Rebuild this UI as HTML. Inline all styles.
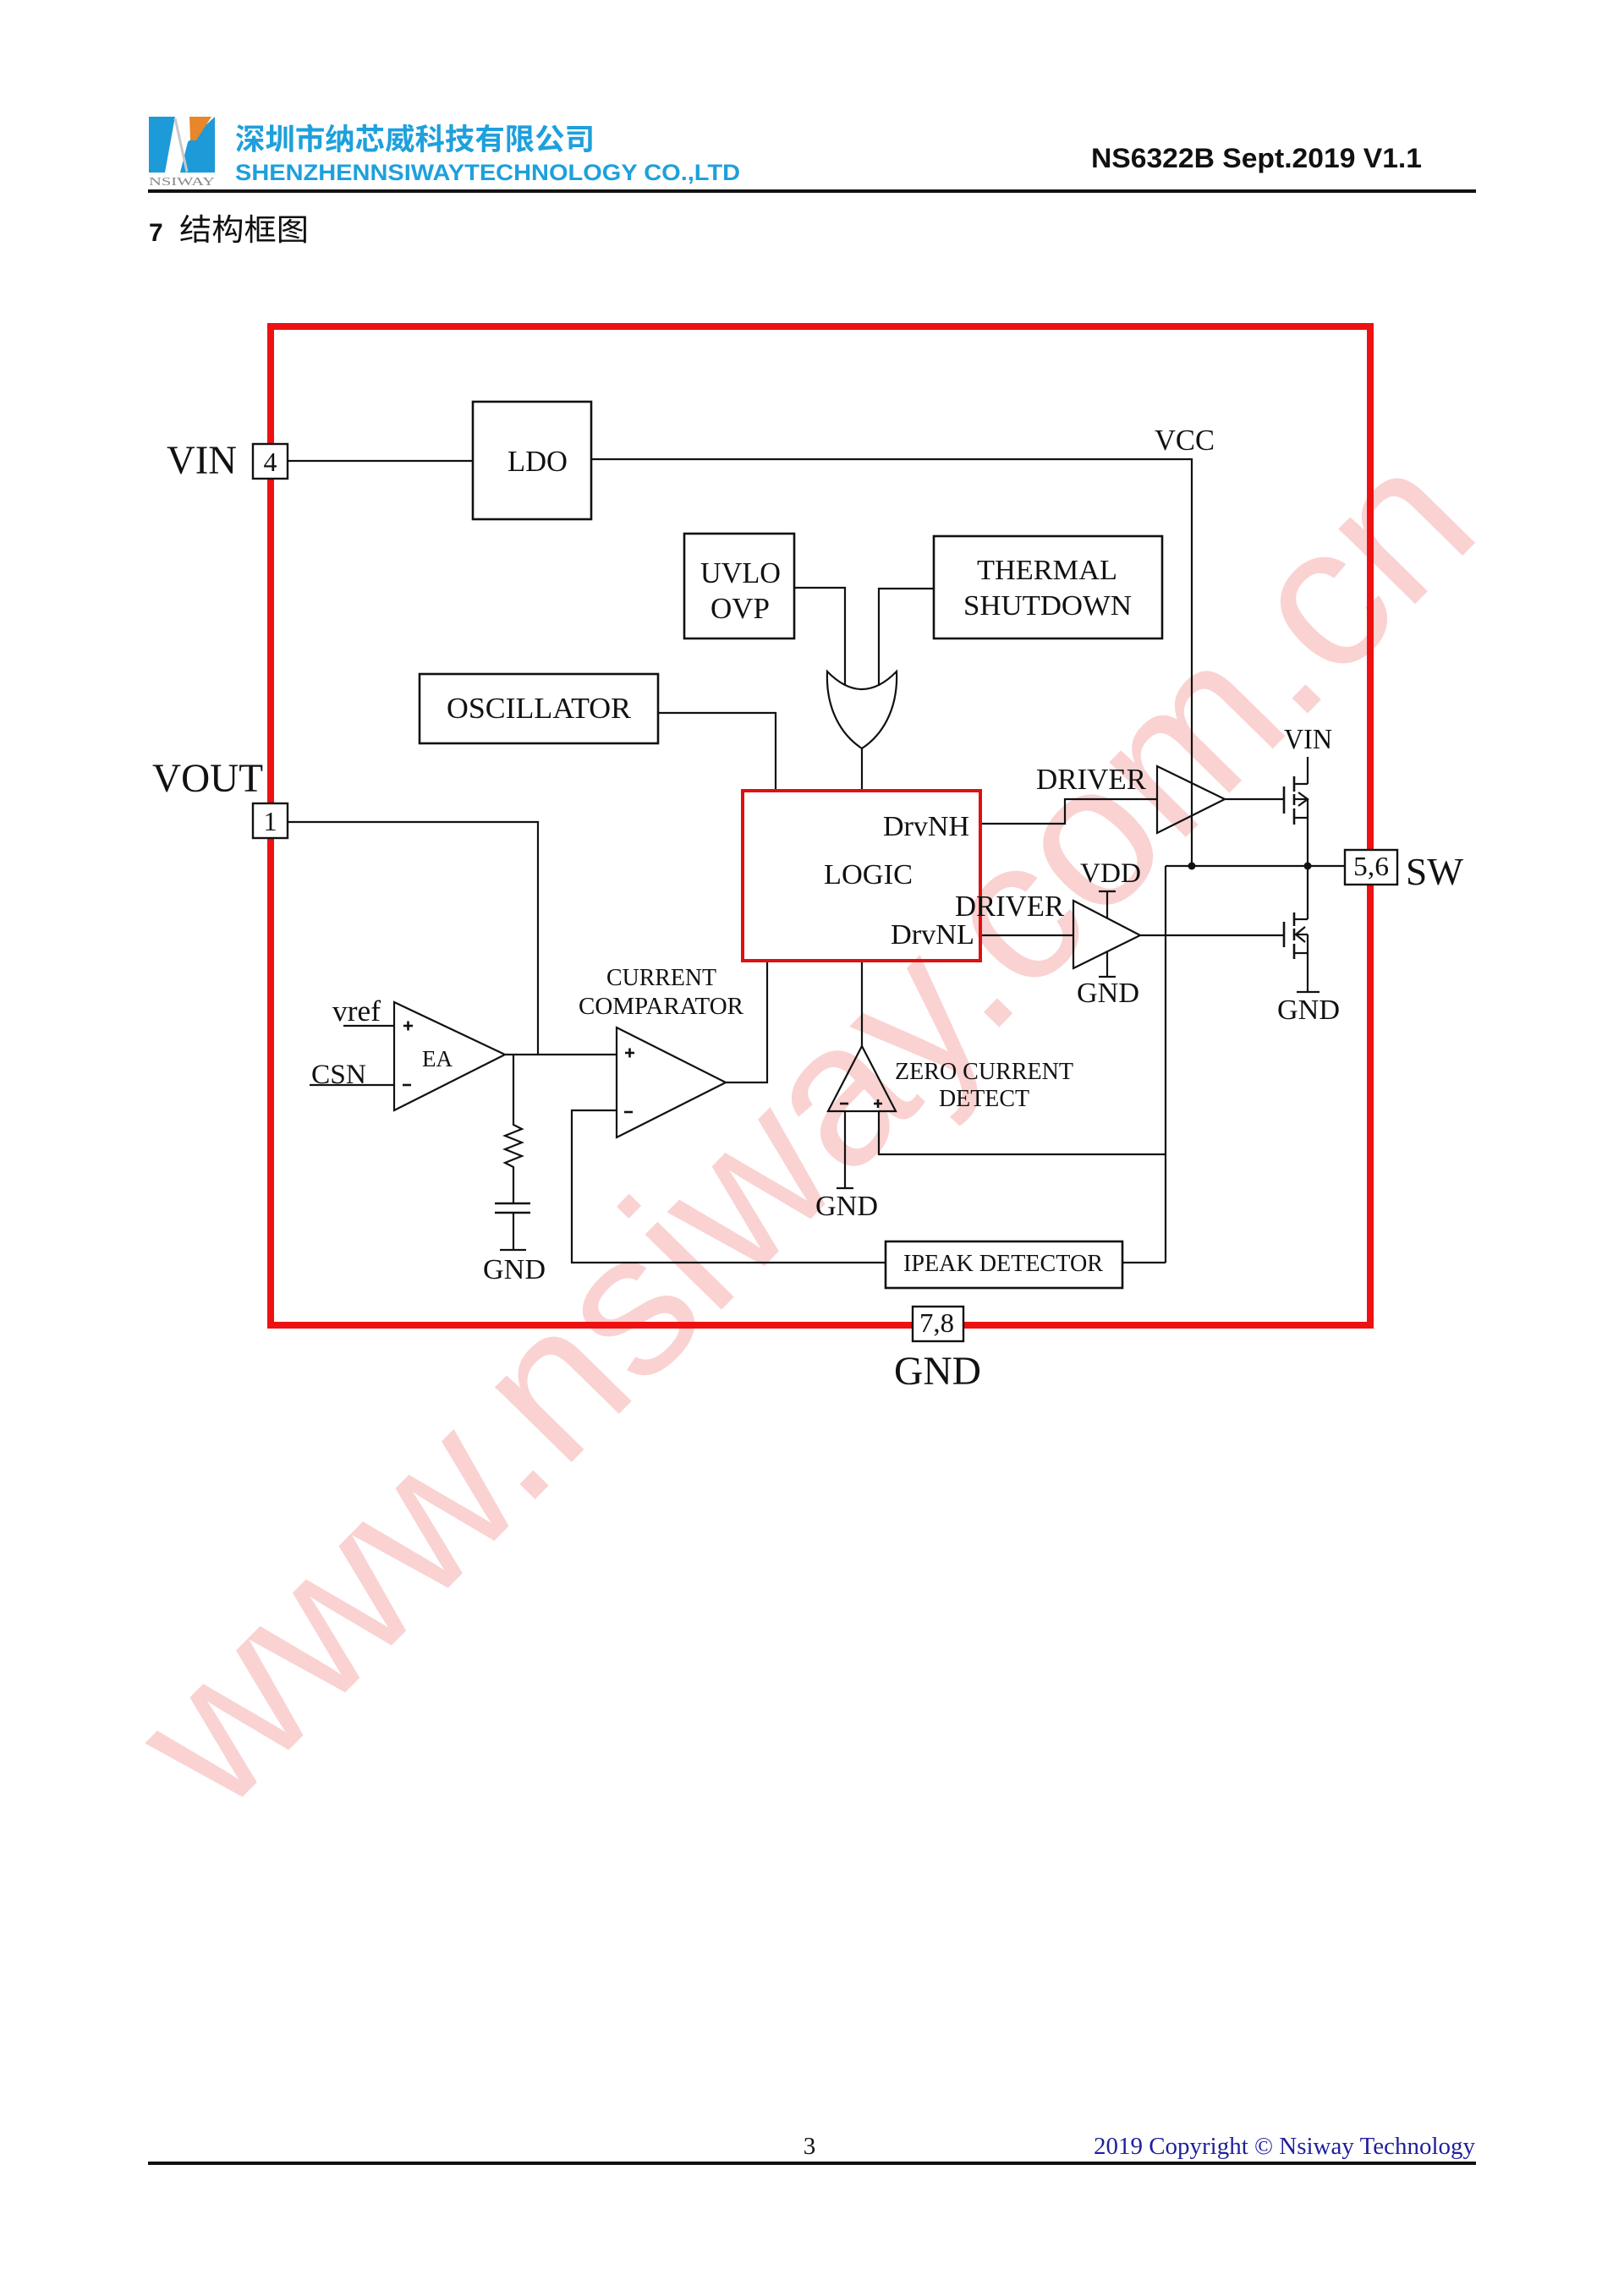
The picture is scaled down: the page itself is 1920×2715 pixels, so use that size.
<!DOCTYPE html>
<html>
<head>
<meta charset="utf-8">
<style>
html,body{margin:0;padding:0;background:#fff;}
body{width:1920px;height:2715px;position:relative;overflow:hidden;}
svg{position:absolute;left:0;top:0;}
.t{font-family:"Liberation Serif","DejaVu Serif",serif;fill:#111;}
</style>
</head>
<body>
<svg width="1920" height="2715" viewBox="0 0 1920 2715" xmlns="http://www.w3.org/2000/svg">
<!-- watermark -->
<text x="262" y="2150" transform="rotate(-45.5 262 2150)" font-family="Liberation Sans, Arial, sans-serif" font-size="240" fill="#fad2d2" textLength="2130" lengthAdjust="spacingAndGlyphs">www.nsiway.com.cn</text>

<!-- header logo -->
<polygon points="176,138 207,138 195,204 176,204" fill="#1d9ad8"/>
<polygon points="222,168 254,138 254,204 213,204" fill="#1d9ad8"/>
<polygon points="224,138 250,138 232,166 225,166" fill="#e8862a"/>
<line x1="207" y1="140" x2="221" y2="203" stroke="#c8c8c8" stroke-width="3"/>
<text x="176" y="219" font-family="Liberation Serif, serif" font-size="14" fill="#888" textLength="78" lengthAdjust="spacingAndGlyphs">NSIWAY</text>
<text x="278" y="177" font-family="Liberation Sans, 'Noto Sans CJK SC', sans-serif" font-weight="bold" font-size="35" fill="#1ea0dc" textLength="425" lengthAdjust="spacingAndGlyphs">深圳市纳芯威科技有限公司</text>
<text x="278" y="213" font-family="Liberation Sans, sans-serif" font-weight="bold" font-size="27" fill="#1ea0dc" textLength="597" lengthAdjust="spacingAndGlyphs">SHENZHENNSIWAYTECHNOLOGY CO.,LTD</text>
<text x="1290" y="198" font-family="Liberation Sans, sans-serif" font-weight="bold" font-size="32" fill="#111" textLength="391" lengthAdjust="spacingAndGlyphs">NS6322B Sept.2019 V1.1</text>
<line x1="175" y1="226" x2="1745" y2="226" stroke="#111" stroke-width="4"/>
<text x="176" y="285" font-family="Liberation Sans, sans-serif" font-weight="bold" font-size="30" fill="#111">7</text>
<text x="212" y="284" font-family="Liberation Sans, 'Noto Sans CJK SC', sans-serif" font-size="36" fill="#111" textLength="153" lengthAdjust="spacingAndGlyphs">结构框图</text>

<!-- outer red box -->
<rect x="320" y="386" width="1300" height="1181" fill="none" stroke="#ee1111" stroke-width="8"/>

<g stroke="#111" stroke-width="2.2" fill="none">
  <!-- VIN wire / LDO -->
  <line x1="340" y1="545" x2="559" y2="545"/>
  <rect x="559" y="475" width="140" height="139" stroke-width="2.6"/>
  <polyline points="699,543 1409,543 1409,1024"/>
  <!-- UVLO -->
  <rect x="809" y="631" width="130" height="124" stroke-width="2.6"/>
  <polyline points="939,695 999,695 999,811"/>
  <!-- THERMAL -->
  <rect x="1104" y="634" width="270" height="121" stroke-width="2.6"/>
  <polyline points="1104,696 1039,696 1039,811"/>
  <!-- OR gate -->
  <path d="M978,794 Q1019,836 1060,794 C1062,840 1042,870 1019,885 C996,870 976,840 978,794 Z"/>
  <line x1="1019" y1="885" x2="1019" y2="935"/>
  <!-- Oscillator -->
  <rect x="496" y="797" width="282" height="82" stroke-width="2.6"/>
  <polyline points="778,843 917,843 917,935"/>
  <!-- DrvNH path -->
  <polyline points="1159,974 1259,974 1259,945 1368,945"/>
  <polygon points="1368,906 1368,985 1448,945"/>
  <line x1="1448" y1="945" x2="1518" y2="945"/>
  <!-- top PMOS -->
  <line x1="1518" y1="930" x2="1518" y2="962" stroke-width="2.6"/>
  <line x1="1530" y1="918" x2="1530" y2="936" stroke-width="2.6"/>
  <line x1="1530" y1="939" x2="1530" y2="952" stroke-width="2.6"/>
  <line x1="1530" y1="956" x2="1530" y2="975" stroke-width="2.6"/>
  <line x1="1530" y1="927" x2="1546" y2="927"/>
  <line x1="1530" y1="945" x2="1546" y2="945"/>
  <polyline points="1535,937 1546,945 1535,953"/>
  <line x1="1530" y1="967" x2="1546" y2="967"/>
  <line x1="1546" y1="895" x2="1546" y2="927"/>
  <line x1="1546" y1="945" x2="1546" y2="1087"/>
  <!-- SW node -->
  <line x1="1378" y1="1024" x2="1590" y2="1024"/>
  <line x1="1378" y1="1024" x2="1378" y2="1493"/>
  <!-- DrvNL path -->
  <line x1="1159" y1="1106" x2="1269" y2="1106"/>
  <polygon points="1269,1065 1269,1145 1348,1106"/>
  <line x1="1348" y1="1106" x2="1518" y2="1106"/>
  <line x1="1309" y1="1054" x2="1309" y2="1086"/>
  <line x1="1299" y1="1054" x2="1319" y2="1054"/>
  <line x1="1309" y1="1126" x2="1309" y2="1155"/>
  <line x1="1299" y1="1155" x2="1319" y2="1155"/>
  <!-- bottom NMOS -->
  <line x1="1518" y1="1090" x2="1518" y2="1120" stroke-width="2.6"/>
  <line x1="1530" y1="1079" x2="1530" y2="1095" stroke-width="2.6"/>
  <line x1="1530" y1="1098" x2="1530" y2="1112" stroke-width="2.6"/>
  <line x1="1530" y1="1116" x2="1530" y2="1134" stroke-width="2.6"/>
  <line x1="1530" y1="1087" x2="1546" y2="1087"/>
  <line x1="1530" y1="1105" x2="1546" y2="1105"/>
  <polyline points="1543,1096 1532,1105 1543,1114"/>
  <line x1="1530" y1="1127" x2="1546" y2="1127"/>
  <line x1="1546" y1="1105" x2="1546" y2="1173"/>
  <line x1="1533" y1="1173" x2="1560" y2="1173"/>
  <!-- VOUT path -->
  <polyline points="340,972 636,972 636,1247"/>
  <!-- EA -->
  <polygon points="466,1185 466,1313 597,1247"/>
  <line x1="406" y1="1213" x2="466" y2="1213"/>
  <line x1="366" y1="1283" x2="466" y2="1283"/>
  <line x1="597" y1="1247" x2="729" y2="1247"/>
  <!-- RC to GND -->
  <polyline points="607,1247 607,1330 617,1335 597,1343 617,1351 597,1359 617,1367 597,1375 607,1380 607,1423"/>
  <line x1="585" y1="1423" x2="627" y2="1423" stroke-width="2.6"/>
  <line x1="585" y1="1434" x2="627" y2="1434" stroke-width="2.6"/>
  <line x1="607" y1="1434" x2="607" y2="1478"/>
  <line x1="591" y1="1478" x2="622" y2="1478"/>
  <!-- current comparator -->
  <polygon points="729,1215 729,1345 858,1280"/>
  <polyline points="858,1280 907,1280 907,1136"/>
  <polyline points="729,1313 676,1313 676,1493 1047,1493"/>
  <!-- zero current detect -->
  <line x1="1019" y1="1136" x2="1019" y2="1237"/>
  <polygon points="1019,1237 979,1314 1059,1314"/>
  <line x1="999" y1="1314" x2="999" y2="1405"/>
  <line x1="989" y1="1405" x2="1009" y2="1405"/>
  <polyline points="1039,1314 1039,1365 1378,1365"/>
  <!-- IPEAK -->
  <rect x="1047" y="1468" width="280" height="55" stroke-width="2.6"/>
  <line x1="1327" y1="1493" x2="1378" y2="1493"/>
  <!-- op-amp signs -->
  <g stroke-width="2.6">
    <line x1="477" y1="1213" x2="488" y2="1213"/><line x1="482.5" y1="1207.5" x2="482.5" y2="1218.5"/>
    <line x1="476" y1="1283" x2="486" y2="1283"/>
    <line x1="739" y1="1245" x2="750" y2="1245"/><line x1="744.5" y1="1239.5" x2="744.5" y2="1250.5"/>
    <line x1="738" y1="1315" x2="748" y2="1315"/>
    <line x1="993" y1="1305" x2="1003" y2="1305"/>
    <line x1="1033" y1="1305" x2="1043" y2="1305"/><line x1="1038" y1="1300" x2="1038" y2="1310"/>
  </g>
</g>

<!-- LOGIC box -->
<rect x="878" y="935" width="281" height="201" fill="none" stroke="#dd1111" stroke-width="4"/>

<!-- junction dots -->
<circle cx="1409" cy="1024" r="4.5" fill="#111"/>
<circle cx="1546" cy="1024" r="4.5" fill="#111"/>

<!-- pins -->
<g fill="#fff" stroke="#111" stroke-width="2.4">
  <rect x="299" y="525" width="41" height="41"/>
  <rect x="299" y="950" width="41" height="41"/>
  <rect x="1590" y="1005" width="62" height="41"/>
  <rect x="1079" y="1545" width="60" height="41"/>
</g>

<!-- labels -->
<g class="t">
  <text x="197" y="560" font-size="48" textLength="83" lengthAdjust="spacingAndGlyphs">VIN</text>
  <text x="319.5" y="557" font-size="32" text-anchor="middle">4</text>
  <text x="600" y="557" font-size="35" textLength="71" lengthAdjust="spacingAndGlyphs">LDO</text>
  <text x="1365" y="532" font-size="35" textLength="71" lengthAdjust="spacingAndGlyphs">VCC</text>
  <text x="828" y="689" font-size="35" textLength="95" lengthAdjust="spacingAndGlyphs">UVLO</text>
  <text x="840" y="731" font-size="35" textLength="70" lengthAdjust="spacingAndGlyphs">OVP</text>
  <text x="1155" y="685" font-size="34" textLength="166" lengthAdjust="spacingAndGlyphs">THERMAL</text>
  <text x="1139" y="727" font-size="34" textLength="199" lengthAdjust="spacingAndGlyphs">SHUTDOWN</text>
  <text x="528" y="849" font-size="35" textLength="218" lengthAdjust="spacingAndGlyphs">OSCILLATOR</text>
  <text x="180" y="936" font-size="48" textLength="131" lengthAdjust="spacingAndGlyphs">VOUT</text>
  <text x="319.5" y="982" font-size="32" text-anchor="middle">1</text>
  <text x="1225" y="933" font-size="35" textLength="130" lengthAdjust="spacingAndGlyphs">DRIVER</text>
  <text x="1518" y="885" font-size="34" textLength="57" lengthAdjust="spacingAndGlyphs">VIN</text>
  <text x="1044" y="988" font-size="34" textLength="102" lengthAdjust="spacingAndGlyphs">DrvNH</text>
  <text x="974" y="1045" font-size="34" textLength="105" lengthAdjust="spacingAndGlyphs">LOGIC</text>
  <text x="1277" y="1043" font-size="33" textLength="72" lengthAdjust="spacingAndGlyphs">VDD</text>
  <text x="1129" y="1083" font-size="35" textLength="129" lengthAdjust="spacingAndGlyphs">DRIVER</text>
  <text x="1053" y="1116" font-size="34" textLength="99" lengthAdjust="spacingAndGlyphs">DrvNL</text>
  <text x="1273" y="1185" font-size="34" textLength="74" lengthAdjust="spacingAndGlyphs">GND</text>
  <text x="1600" y="1035" font-size="32" textLength="42" lengthAdjust="spacingAndGlyphs">5,6</text>
  <text x="1662" y="1046" font-size="46" textLength="68" lengthAdjust="spacingAndGlyphs">SW</text>
  <text x="1510" y="1205" font-size="34" textLength="74" lengthAdjust="spacingAndGlyphs">GND</text>
  <text x="393" y="1207" font-size="35" textLength="57" lengthAdjust="spacingAndGlyphs">vref</text>
  <text x="368" y="1281" font-size="33" textLength="65" lengthAdjust="spacingAndGlyphs">CSN</text>
  <text x="499" y="1261" font-size="27" textLength="36" lengthAdjust="spacingAndGlyphs">EA</text>
  <text x="717" y="1165" font-size="28" textLength="130" lengthAdjust="spacingAndGlyphs">CURRENT</text>
  <text x="684" y="1199" font-size="28" textLength="195" lengthAdjust="spacingAndGlyphs">COMPARATOR</text>
  <text x="1058" y="1276" font-size="28" textLength="211" lengthAdjust="spacingAndGlyphs">ZERO CURRENT</text>
  <text x="1110" y="1308" font-size="28" textLength="107" lengthAdjust="spacingAndGlyphs">DETECT</text>
  <text x="964" y="1437" font-size="34" textLength="74" lengthAdjust="spacingAndGlyphs">GND</text>
  <text x="571" y="1512" font-size="34" textLength="74" lengthAdjust="spacingAndGlyphs">GND</text>
  <text x="1068" y="1503" font-size="28" textLength="236" lengthAdjust="spacingAndGlyphs">IPEAK DETECTOR</text>
  <text x="1087" y="1575" font-size="32" textLength="41" lengthAdjust="spacingAndGlyphs">7,8</text>
  <text x="1057" y="1637" font-size="48" textLength="103" lengthAdjust="spacingAndGlyphs">GND</text>
</g>

<!-- footer -->
<text x="957" y="2547" font-family="Liberation Serif, serif" font-size="29" fill="#111" text-anchor="middle">3</text>
<text x="1293" y="2547" font-family="Liberation Serif, serif" font-size="29" fill="#1f1f9c" textLength="451" lengthAdjust="spacingAndGlyphs">2019 Copyright © Nsiway Technology</text>
<line x1="175" y1="2558" x2="1745" y2="2558" stroke="#111" stroke-width="4"/>
</svg>
</body>
</html>
